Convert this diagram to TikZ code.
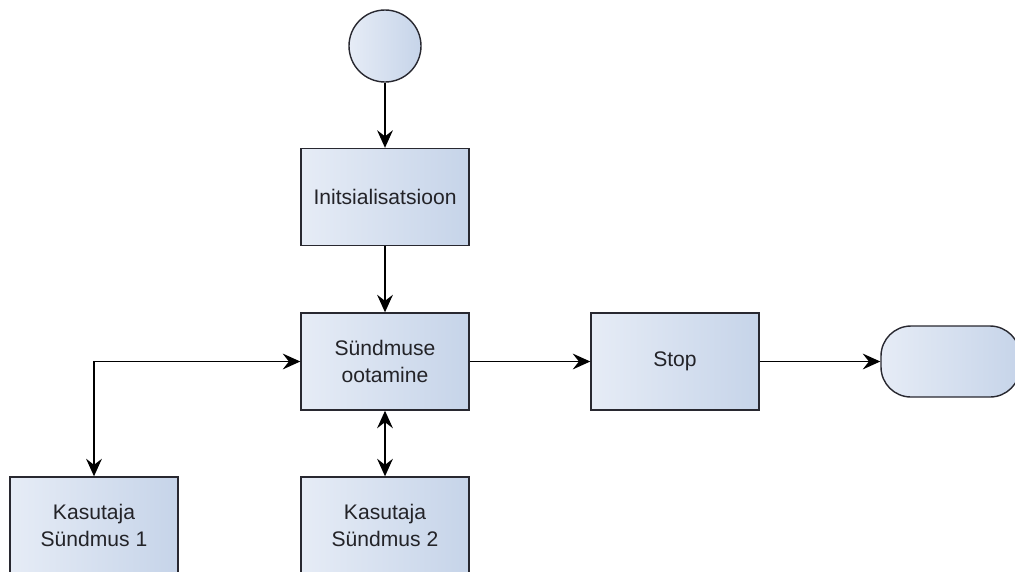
\documentclass[tikz,border=0pt]{standalone}
\usepackage{fontspec}
\setmainfont{Liberation Sans}
\usetikzlibrary{arrows.meta}

\definecolor{boxleft}{RGB}{230,236,246}
\definecolor{boxright}{RGB}{198,212,233}
\definecolor{boxline}{RGB}{40,40,48}
\definecolor{boxtext}{RGB}{35,35,40}

\tikzset{
    block/.style = {draw = boxline, line width = 0.8pt, left color = boxleft, right color = boxright,
        minimum width = 3.36cm, minimum height = 1.94cm, align = center, inner sep = 2pt,
        text = boxtext, font = \fontsize{12}{15.4}\selectfont},
    startnode/.style = {circle, draw = boxline, line width = 0.8pt, left color = boxleft,
        right color = boxright, minimum size = 1.44cm, inner sep = 0pt},
    endnode/.style = {draw = boxline, line width = 0.8pt, left color = boxleft, right color = boxright,
        rounded corners = 0.6cm, minimum width = 2.78cm, minimum height = 1.42cm},
    flow/.style = {line width = 0.8pt, draw = black, -{Stealth[length = 10pt, width = 9pt, inset = 3.5pt]}},
    twoway/.style = {line width = 0.8pt, draw = black,
        {Stealth[length = 10pt, width = 9pt, inset = 3.5pt]}-{Stealth[length = 10pt, width = 9pt, inset = 3.5pt]}}
}

\begin{document}
\begin{tikzpicture}
    \useasboundingbox (+0.000, +0.000) rectangle (+20.300, -11.420);
    \clip (+0.000, +0.000) rectangle (+20.300, -11.420);

    % === Main column ===
    % Start
    \node[startnode] (start) at (+7.700, -0.920) {};

    % Initsialisatsioon
    \node[block] (init) at (+7.700, -3.940) {Initsialisatsioon};

    % Sündmuse ootamine
    \node[block] (wait) at (+7.700, -7.230) {Sündmuse\\ootamine};

    % === Right side ===
    % Stop
    \node[block] (stop) at (+13.500, -7.230) {Stop};

    % End
    \node[endnode] (finish) at (+19.010, -7.230) {};

    % === Lower elements ===
    % Kasutaja Sündmus 1
    \node[block] (userone) at (+1.880, -10.510) {Kasutaja\\Sündmus 1};

    % Kasutaja Sündmus 2
    \node[block] (usertwo) at (+7.700, -10.510) {Kasutaja\\Sündmus 2};

    % === Connectors ===
    \draw[flow] (start) -- (init);
    \draw[flow] (init) -- (wait);
    \draw[flow] (wait) -- (stop);
    \draw[flow] (stop) -- (finish);
    \draw[twoway] (userone.north) |- (wait.west);
    \draw[twoway] (wait) -- (usertwo);
\end{tikzpicture}
\end{document}
